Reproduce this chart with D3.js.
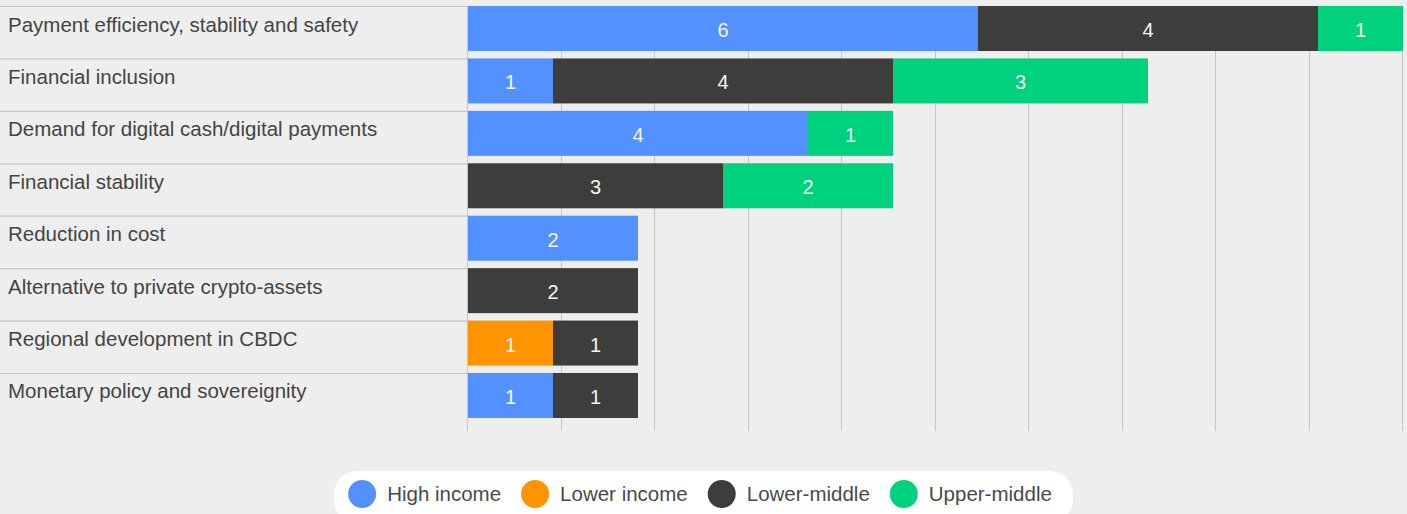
<!DOCTYPE html>
<html>
<head>
<meta charset="utf-8">
<script src="https://cdn.jsdelivr.net/npm/d3@7"></script>
<style>
  html, body { margin: 0; padding: 0; background: #eeeeee; }
  svg { display: block; }
  text { font-family: "Liberation Sans", Arial, Helvetica, sans-serif; }
</style>
</head>
<body>
<svg id="chart" width="1407" height="514"></svg>
<script>
// Motivations for CBDC work, counted by income group of the economy
const categories = [
  "Payment efficiency, stability and safety",
  "Financial inclusion",
  "Demand for digital cash/digital payments",
  "Financial stability",
  "Reduction in cost",
  "Alternative to private crypto-assets",
  "Regional development in CBDC",
  "Monetary policy and sovereignity"
];
const highIncome  = [6, 1, 4, 0, 2, 0, 0, 1];
const lowerIncome = [0, 0, 0, 0, 0, 0, 1, 0];
const lowerMiddle = [4, 4, 0, 3, 0, 2, 1, 1];
const upperMiddle = [1, 3, 1, 2, 0, 0, 0, 0];

const seriesNames = ["High income", "Lower income", "Lower-middle", "Upper-middle"];
const seriesColors = ["#5291ff", "#ff9300", "#3d3d3b", "#00d17c"];
const axisMax = 11;
const gridDivisions = 10;

const W = 1407, H = 514;
const svg = d3.select("#chart");

const rows = categories.map((c, i) => ({
  category: c,
  "High income": highIncome[i],
  "Lower income": lowerIncome[i],
  "Lower-middle": lowerMiddle[i],
  "Upper-middle": upperMiddle[i]
}));

const x = d3.scaleLinear().domain([0, axisMax]).range([468, 1403]);
const y = d3.scaleBand().domain(categories).range([6, 418])
  .paddingInner(7.4 / 52.4).paddingOuter(0).align(0);
const color = d3.scaleOrdinal().domain(seriesNames).range(seriesColors);

const gridBottom = 431;

// vertical gridlines
const gridValues = d3.range(gridDivisions + 1).map(i => axisMax * i / gridDivisions);
svg.append("g").selectAll("line").data(gridValues).join("line")
  .attr("x1", d => Math.round(x(d)) - 0.5)
  .attr("x2", d => Math.round(x(d)) - 0.5)
  .attr("y1", y.range()[0])
  .attr("y2", gridBottom)
  .attr("stroke", "#c4c4c4")
  .attr("stroke-width", 1);

// row separators under the category labels
svg.append("g").selectAll("line").data(categories).join("line")
  .attr("x1", 0)
  .attr("x2", x(0))
  .attr("y1", d => y(d) + 0.5)
  .attr("y2", d => y(d) + 0.5)
  .attr("stroke", "#c4c4c4")
  .attr("stroke-width", 1.2);

// category labels
svg.append("g").selectAll("text").data(categories).join("text")
  .attr("x", 8)
  .attr("y", d => y(d) + 25.5)
  .attr("font-size", "20.5px")
  .attr("fill", "#444444")
  .text(d => d);

// stacked bars
const stacked = d3.stack().keys(seriesNames)(rows);
const layers = svg.append("g").selectAll("g").data(stacked).join("g")
  .attr("fill", d => color(d.key));

layers.selectAll("rect")
  .data(d => d.filter(s => s[1] - s[0] > 0))
  .join("rect")
  .attr("x", d => x(d[0]))
  .attr("y", d => y(d.data.category))
  .attr("width", d => x(d[1]) - x(d[0]))
  .attr("height", y.bandwidth());

// value labels inside segments
layers.selectAll("text")
  .data(d => d.filter(s => s[1] - s[0] > 0))
  .join("text")
  .attr("x", d => (x(d[0]) + x(d[1])) / 2)
  .attr("y", d => y(d.data.category) + 31)
  .attr("text-anchor", "middle")
  .attr("font-size", "20px")
  .attr("fill", "#f6f6f6")
  .text(d => d[1] - d[0]);

// legend
const legend = svg.append("g");
const pill = legend.append("rect")
  .attr("fill", "#ffffff");
const items = legend.selectAll("g").data(seriesNames).join("g");
items.append("circle")
  .attr("r", 14)
  .attr("cx", 14)
  .attr("cy", 494)
  .attr("fill", d => color(d));
items.append("text")
  .attr("x", 39)
  .attr("y", 501)
  .attr("font-size", "20.5px")
  .attr("fill", "#4a4a4a")
  .text(d => d);

let cursor = 0;
const offsets = [];
items.each(function () {
  const tw = d3.select(this).select("text").node().getComputedTextLength();
  offsets.push(cursor);
  cursor += 39 + tw + 20;
});
const contentWidth = cursor - 20;
const padL = 14, padR = 21;
const pillWidth = contentWidth + padL + padR;
const pillLeft = W / 2 - pillWidth / 2;
items.attr("transform", (d, i) => `translate(${pillLeft + padL + offsets[i]},0)`);
pill.attr("x", pillLeft)
  .attr("y", 471)
  .attr("width", pillWidth)
  .attr("height", 52)
  .attr("rx", 23)
  .attr("ry", 23);
</script>
</body>
</html>
